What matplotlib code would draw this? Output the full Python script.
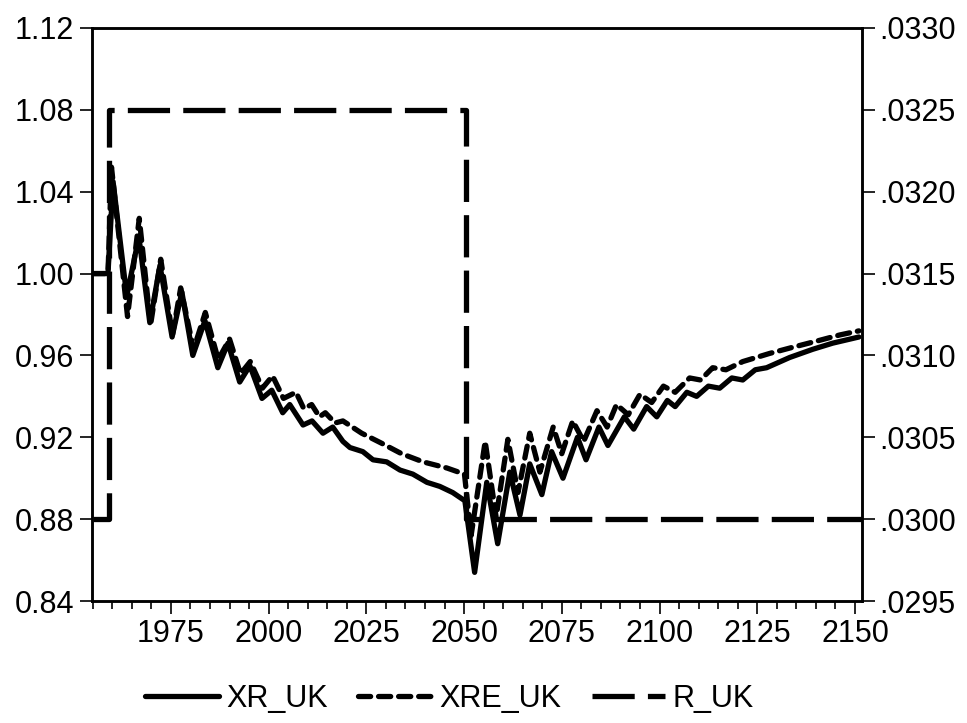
import numpy as np
import matplotlib
matplotlib.use('Agg')
import matplotlib.pyplot as plt
from matplotlib.ticker import MultipleLocator, FuncFormatter

plt.rcParams['font.family'] = ['Liberation Sans', 'DejaVu Sans']

xr_years = [1955, 1958.9, 1960.2, 1963.7, 1966.8, 1969.6, 1972.2, 1975.3, 1977.8,
            1980.6, 1983.7, 1987.0, 1989.6, 1992.6, 1995.2, 1998.3, 2000.8, 2003.6,
            2005.4, 2008.8, 2011.1, 2013.9, 2016.4, 2019.0, 2020.8, 2024.1, 2026.7,
            2030.2, 2033.6, 2036.9, 2040.5, 2043.8, 2047.1, 2050.2, 2052.7, 2055.8,
            2058.6, 2061.7, 2064.3, 2066.8, 2069.9, 2072.4, 2075.3, 2079.0, 2081.2,
            2084.5, 2086.8, 2091.0, 2093.4, 2096.7, 2099.3, 2102.0, 2104.0, 2107.0,
            2109.5, 2112.5, 2115.4, 2118.5, 2121.3, 2124.5, 2127.4, 2133.3, 2139.2,
            2144.3, 2151.0]
xr_vals = [1.000, 1.000, 1.045, 0.989, 1.018, 0.976, 1.004, 0.969, 0.991,
           0.960, 0.977, 0.954, 0.966, 0.947, 0.955, 0.939, 0.943, 0.932,
           0.936, 0.926, 0.928, 0.922, 0.925, 0.918, 0.915, 0.913, 0.909,
           0.908, 0.904, 0.902, 0.898, 0.896, 0.893, 0.889, 0.854, 0.898,
           0.868, 0.903, 0.882, 0.907, 0.892, 0.913, 0.900, 0.920, 0.909,
           0.925, 0.916, 0.930, 0.924, 0.935, 0.930, 0.938, 0.935, 0.942,
           0.940, 0.945, 0.944, 0.949, 0.948, 0.953, 0.954, 0.959, 0.963,
           0.966, 0.969]

# XRE_UK (short dashes)
xre_years = [1955, 1958.9, 1959.8, 1963.9, 1966.9, 1969.8, 1972.4, 1975.4, 1977.5,
             1980.8, 1983.8, 1987.1, 1990.0, 1992.8, 1995.3, 1998.4, 2001.0, 2003.8,
             2007.0, 2009.0, 2011.0, 2013.0, 2014.5, 2017.0, 2019.0, 2023.8, 2029.0,
             2034.0, 2039.5, 2045.6, 2050.1, 2051.8, 2055.4, 2058.2, 2061.2, 2063.8,
             2066.8, 2069.4, 2072.8, 2075.0, 2077.8, 2080.6, 2084.0, 2086.6, 2089.0,
             2092.0, 2095.0, 2098.0, 2101.0, 2104.0, 2107.7, 2110.5, 2113.6, 2117.0,
             2121.3, 2128.2, 2134.1, 2140.2, 2146.1, 2151.0]
xre_vals = [1.000, 1.000, 1.052, 0.979, 1.027, 0.975, 1.007, 0.970, 0.993,
            0.963, 0.981, 0.958, 0.968, 0.951, 0.957, 0.944, 0.950, 0.939,
            0.942, 0.934, 0.936, 0.930, 0.932, 0.927, 0.928, 0.922, 0.917,
            0.912, 0.908, 0.905, 0.902, 0.872, 0.918, 0.881, 0.919, 0.893,
            0.922, 0.903, 0.925, 0.912, 0.928, 0.918, 0.933, 0.925, 0.936,
            0.931, 0.941, 0.937, 0.945, 0.942, 0.949, 0.948, 0.954, 0.953,
            0.957, 0.961, 0.964, 0.967, 0.970, 0.972]

# R_UK (long dashes, right axis)
r_years = [1955, 1959.2, 2050.5, 2152]
r_vals = [0.0300, 0.0325, 0.0300, 0.0300]

fig = plt.figure(figsize=(9.67, 7.23), dpi=100)
ax = fig.add_axes([0.0955, 0.1687, 0.7955, 0.7926])
ax2 = ax.twinx()

lw = 3.8
l1, = ax.plot(xr_years, xr_vals, color='black', lw=lw, solid_joinstyle='round',
              solid_capstyle='round', label='XR_UK')
l2, = ax.plot(xre_years, xre_vals, color='black', lw=lw, dashes=(2.3, 1.5),
              dash_capstyle='round', dash_joinstyle='round', label='XRE_UK')
l3, = ax2.plot(r_years, r_vals, color='black', lw=lw, drawstyle='steps-post',
               dashes=(8.0, 2.5), label='R_UK')

ax.set_xlim(1954.9, 2151.7)
ax.set_ylim(0.84, 1.12)
ax2.set_ylim(0.0295, 0.0330)

ax.xaxis.set_minor_locator(MultipleLocator(5))
ax.set_xticks([1975, 2000, 2025, 2050, 2075, 2100, 2125, 2150])
ax.yaxis.set_major_locator(MultipleLocator(0.04))
ax.yaxis.set_major_formatter(FuncFormatter(lambda v, p: f'{v:.2f}'))
ax2.yaxis.set_major_locator(MultipleLocator(0.0005))
ax2.yaxis.set_major_formatter(FuncFormatter(lambda v, p: f'{v:.4f}'.lstrip('0')))

for a in (ax, ax2):
    for s in a.spines.values():
        s.set_linewidth(1.8)
ax.tick_params(axis='y', direction='out', length=9, width=1.2, labelsize=22, pad=4)
ax2.tick_params(axis='y', direction='out', length=9, width=1.2, labelsize=22, pad=4)
ax.tick_params(axis='x', which='major', direction='out', length=9, width=1.2,
               labelsize=22, pad=4)
ax.tick_params(axis='x', which='minor', direction='out', length=5.5, width=1.2)

fig.legend([l1, l2, l3], ['XR_UK', 'XRE_UK', 'R_UK'], loc='center',
           bbox_to_anchor=(0.465, 0.033), ncol=3, frameon=False, fontsize=22,
           handlelength=2.4, handletextpad=0.25, columnspacing=1.0)

fig.savefig('out.png', dpi=100)
